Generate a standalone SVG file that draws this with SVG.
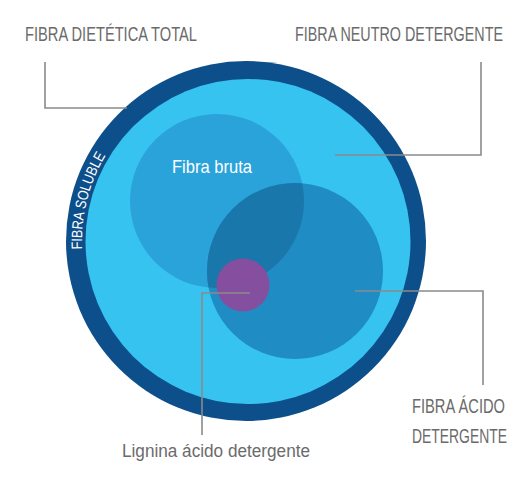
<svg xmlns="http://www.w3.org/2000/svg" width="523" height="477" viewBox="0 0 523 477">
<defs>
<style>
.lbl{font-family:"Liberation Sans","Noto Sans",sans-serif;fill:#6b6b6b;}
.wht{font-family:"Liberation Sans","Noto Sans",sans-serif;fill:#ffffff;}
.conn{fill:none;stroke:#8a8a8a;stroke-width:1.6;}
</style>
<clipPath id="clipBruta"><circle cx="217" cy="201" r="87"/></clipPath>
<path id="arcSol" d="M120.8,347.7 A166,166 0 0 1 191.2,85"/>
</defs>
<rect width="523" height="477" fill="#ffffff"/>
<g id="fibra-dietetica-total">
<circle cx="246" cy="241" r="180" fill="#0d4f8b"/>
<text class="wht" font-size="15" textLength="98" lengthAdjust="spacingAndGlyphs"><textPath href="#arcSol" startOffset="156.5" text-anchor="middle">FIBRA SOLUBLE</textPath></text>
</g>
<g id="fibra-neutro-detergente">
<circle cx="248" cy="241.5" r="162.5" fill="#37c3ef"/>
</g>
<g id="fibra-bruta">
<circle cx="217" cy="201" r="87" fill="#2aa3da"/>
<text class="wht" transform="translate(172,173) scale(1,1.15)" font-size="16.5" textLength="80" lengthAdjust="spacingAndGlyphs">Fibra bruta</text>
</g>
<g id="fibra-acido-detergente">
<circle cx="295" cy="271" r="88" fill="#1f8cc4"/>
<circle cx="295" cy="271" r="88" fill="#1a77ab" clip-path="url(#clipBruta)"/>
</g>
<g id="lignina">
<circle cx="243" cy="285" r="26.5" fill="#8b4c9e" fill-opacity="0.95"/>
</g>
<g id="connectors">
<polyline class="conn" points="45,62 45,108 127,108"/>
<polyline class="conn" points="481,62 481,155 335,155"/>
<polyline class="conn" points="355,291 483,291 483,385"/>
<polyline class="conn" points="250,293 202,293 202,435"/>
</g>
<g id="labels">
<text class="lbl" transform="translate(25,41) scale(1,1.47)" font-size="14.3" textLength="172" lengthAdjust="spacingAndGlyphs">FIBRA DIETÉTICA TOTAL</text>
<text class="lbl" transform="translate(295,41) scale(1,1.47)" font-size="14.3" textLength="208" lengthAdjust="spacingAndGlyphs">FIBRA NEUTRO DETERGENTE</text>
<text class="lbl" transform="translate(412,413) scale(1,1.47)" font-size="14.3" textLength="93" lengthAdjust="spacingAndGlyphs">FIBRA ÁCIDO</text>
<text class="lbl" transform="translate(412,443) scale(1,1.47)" font-size="14.3" textLength="95" lengthAdjust="spacingAndGlyphs">DETERGENTE</text>
<text class="lbl" transform="translate(122,457) scale(1,1.04)" font-size="17.2" textLength="188" lengthAdjust="spacingAndGlyphs">Lignina ácido detergente</text>
</g>
</svg>
